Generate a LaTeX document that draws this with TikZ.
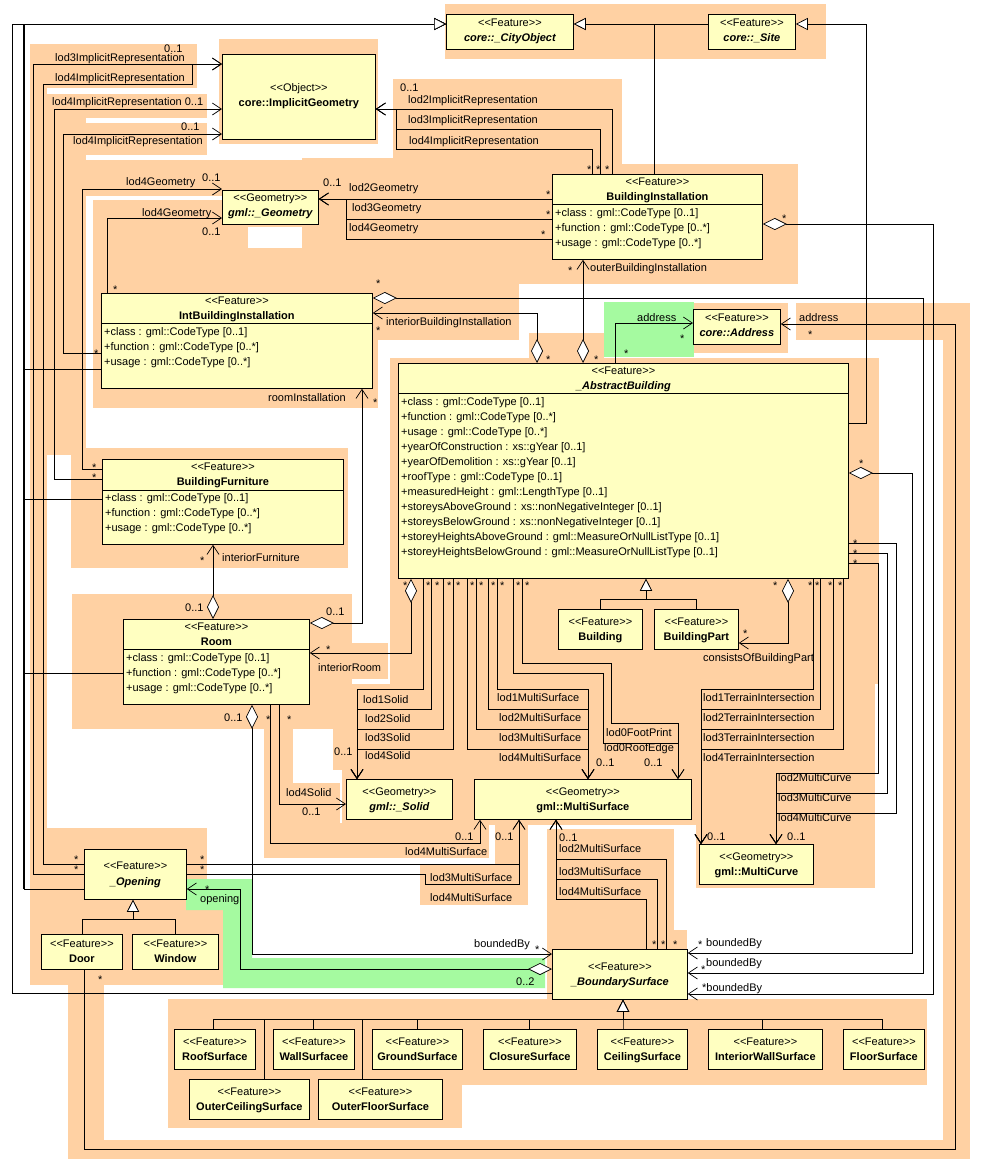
\documentclass[tikz,border=0pt]{standalone}
\usepackage{fontspec}
\setmainfont{Liberation Sans}
\usetikzlibrary{arrows.meta, positioning, calc}
\definecolor{pkgorange}{RGB}{255, 209, 163}
\definecolor{linkgreen}{RGB}{165, 250, 160}
\definecolor{classyellow}{RGB}{255, 255, 193}
\newcommand{\umlfont}{\fontsize{11}{13}\selectfont}
\newcommand{\umlst}[1]{<{}<#1>{}>}

\tikzset{
  umlbox/.style={draw, fill=classyellow, line width=0.8pt, inner sep=0pt, anchor=north west},
  stereo/.style={inner sep=0pt, anchor=mid, font=\umlfont},
  cname/.style={inner sep=0pt, anchor=mid, font=\umlfont\bfseries},
  aname/.style={inner sep=0pt, anchor=mid, font=\umlfont\bfseries\itshape},
  attr/.style={inner sep=0pt, anchor=mid west, font=\umlfont},
  lbl/.style={inner sep=0pt, anchor=mid west, font=\umlfont},
  star/.style={lbl, yshift=-4pt},
  link/.style={line width=0.7pt},
  nav/.style={link, -{Straight Barb[length=9pt, width=12pt]}},
  gen/.style={link, -{Triangle[fill=white, length=12pt, width=12pt]}},
  aggnav/.style={link, {Diamond[fill=white, length=24pt, width=12pt]}-{Straight Barb[length=9pt, width=12pt]}},
}

\begin{document}
\begin{tikzpicture}[x=1pt, y=-1pt]
\useasboundingbox (0,0) rectangle (982,1163);
\fill[white] (0,0) rectangle (982,1163);

\fill[pkgorange] (445,4) rectangle (826,59);
\fill[pkgorange] (219,39) rectangle (378,144);
\fill[pkgorange] (30,44) rectangle (197,88);
\fill[pkgorange] (30,88) rectangle (47,985);
\fill[pkgorange] (47,94) rectangle (207,118);
\fill[pkgorange] (47,118) rectangle (86,455);
\fill[pkgorange] (72,123) rectangle (207,155);
\fill[pkgorange] (72,160) rectangle (302,196);
\fill[pkgorange] (93,200) rectangle (378,408);
\fill[pkgorange] (302,158) rectangle (519,300);
\fill[pkgorange] (378,284) rectangle (519,340);
\fill[pkgorange] (393,79) rectangle (622,164);
\fill[pkgorange] (519,164) rectangle (798,284);
\fill[white] (248,227) rectangle (302,248);
\fill[pkgorange] (71,448) rectangle (348,568);
\fill[pkgorange] (72,594) rectangle (352,729);
\fill[pkgorange] (352,643) rectangle (388,679);
\fill[pkgorange] (264,729) rectangle (293,858);
\fill[pkgorange] (293,783) rectangle (340,823);
\fill[pkgorange] (264,823) rectangle (489,858);
\fill[pkgorange] (390,358) rectangle (879,684);
\fill[pkgorange] (529,333) rectangle (604,358);
\fill[pkgorange] (333,684) rectangle (700,770);
\fill[pkgorange] (342,770) rectangle (697,825);
\fill[pkgorange] (696,684) rectangle (875,888);
\fill[pkgorange] (547,829) rectangle (674,930);
\fill[pkgorange] (547,930) rectangle (687,1004);
\fill[pkgorange] (495,825) rectangle (528,865);
\fill[pkgorange] (420,865) rectangle (528,905);
\fill[pkgorange] (30,828) rectangle (207,985);
\fill[pkgorange] (207,910) rectangle (223,985);
\fill[pkgorange] (68,985) rectangle (104,1159);
\fill[pkgorange] (68,1140) rectangle (970,1159);
\fill[pkgorange] (943,303) rectangle (970,1159);
\fill[pkgorange] (796,303) rectangle (970,340);
\fill[pkgorange] (694,303) rectangle (788,353);
\fill[pkgorange] (168,999) rectangle (927,1085);
\fill[pkgorange] (168,1085) rectangle (462,1128);
\fill[linkgreen] (604,302) rectangle (694,357);
\fill[linkgreen] (186,879) -- (252,879) -- (252,958) -- (545,958) -- (545,988) -- (223,988) -- (223,910) -- (186,910) -- cycle;

\node[umlbox, minimum width=127pt, minimum height=35pt] (co) at (446,14) {};
\node[stereo] (co-s) at (co.north |- 0,24) {\umlst{Feature}};
\node[aname] (co-n) at (co.north |- 0,39) {core::\_CityObject};

\node[umlbox, minimum width=87pt, minimum height=35pt] (site) at (708,14) {};
\node[stereo] (site-s) at (site.north |- 0,24) {\umlst{Feature}};
\node[aname] (site-n) at (site.north |- 0,39) {core::\_Site};

\node[umlbox, minimum width=153pt, minimum height=85pt] (ig) at (222,54) {};
\node[stereo] (ig-s) at (ig.north |- 0,89) {\umlst{Object}};
\node[cname] (ig-n) at (ig.north |- 0,104) {core::ImplicitGeometry};

\node[umlbox, minimum width=96pt, minimum height=34pt] (geo) at (222,190) {};
\node[stereo] (geo-s) at (geo.north |- 0,199) {\umlst{Geometry}};
\node[aname] (geo-n) at (geo.north |- 0,214) {gml::\_Geometry};

\node[umlbox, minimum width=210pt, minimum height=85pt] (bi) at (552,174) {};
\draw (bi.west |- 0,204) -- (bi.east |- 0,204);
\node[stereo] (bi-s) at (bi.north |- 0,183) {\umlst{Feature}};
\node[cname] (bi-n) at (bi.north |- 0,198) {BuildingInstallation};
\node[attr] (bi-a1) at (555,214) {+class : gml::CodeType [0..1]};
\node[attr] (bi-a2) at (555,229) {+function : gml::CodeType [0..*]};
\node[attr] (bi-a3) at (555,244) {+usage : gml::CodeType [0..*]};

\node[umlbox, minimum width=271pt, minimum height=95pt] (ibi) at (101,293) {};
\draw (ibi.west |- 0,323) -- (ibi.east |- 0,323);
\node[stereo] (ibi-s) at (ibi.north |- 0,302) {\umlst{Feature}};
\node[cname] (ibi-n) at (ibi.north |- 0,317) {IntBuildingInstallation};
\node[attr] (ibi-a1) at (104,333) {+class : gml::CodeType [0..1]};
\node[attr] (ibi-a2) at (104,348) {+function : gml::CodeType [0..*]};
\node[attr] (ibi-a3) at (104,363) {+usage : gml::CodeType [0..*]};

\node[umlbox, minimum width=87pt, minimum height=35pt] (addr) at (693,309) {};
\node[stereo] (addr-s) at (addr.north |- 0,319) {\umlst{Feature}};
\node[aname] (addr-n) at (addr.north |- 0,334) {core::Address};

\node[umlbox, minimum width=450pt, minimum height=215pt] (ab) at (398,363) {};
\draw (ab.west |- 0,393) -- (ab.east |- 0,393);
\node[stereo] (ab-s) at (ab.north |- 0,372) {\umlst{Feature}};
\node[aname] (ab-n) at (ab.north |- 0,387) {\_AbstractBuilding};
\foreach \t [count=\i] in {{+class : gml::CodeType [0..1]}, {+function : gml::CodeType [0..*]}, {+usage : gml::CodeType [0..*]}, {+yearOfConstruction : xs::gYear [0..1]}, {+yearOfDemolition : xs::gYear [0..1]}, {+roofType : gml::CodeType [0..1]}, {+measuredHeight : gml::LengthType [0..1]}, {+storeysAboveGround : xs::nonNegativeInteger [0..1]}, {+storeysBelowGround : xs::nonNegativeInteger [0..1]}, {+storeyHeightsAboveGround : gml::MeasureOrNullListType [0..1]}, {+storeyHeightsBelowGround : gml::MeasureOrNullListType [0..1]}}
  \node[attr] (ab-a\i) at (401, 388+15*\i) {\t};

\node[umlbox, minimum width=241pt, minimum height=85pt] (bf) at (102,459) {};
\draw (bf.west |- 0,490) -- (bf.east |- 0,490);
\node[stereo] (bf-s) at (bf.north |- 0,468) {\umlst{Feature}};
\node[cname] (bf-n) at (bf.north |- 0,483) {BuildingFurniture};
\node[attr] (bf-a1) at (105,499) {+class : gml::CodeType [0..1]};
\node[attr] (bf-a2) at (105,514) {+function : gml::CodeType [0..*]};
\node[attr] (bf-a3) at (105,529) {+usage : gml::CodeType [0..*]};

\node[umlbox, minimum width=186pt, minimum height=85pt] (room) at (123,619) {};
\draw (room.west |- 0,649) -- (room.east |- 0,649);
\node[stereo] (room-s) at (room.north |- 0,628) {\umlst{Feature}};
\node[cname] (room-n) at (room.north |- 0,643) {Room};
\node[attr] (room-a1) at (126,659) {+class : gml::CodeType [0..1]};
\node[attr] (room-a2) at (126,674) {+function : gml::CodeType [0..*]};
\node[attr] (room-a3) at (126,689) {+usage : gml::CodeType [0..*]};

\node[umlbox, minimum width=84pt, minimum height=40pt] (bldg) at (558,609) {};
\node[stereo] (bldg-s) at (bldg.north |- 0,623) {\umlst{Feature}};
\node[cname] (bldg-n) at (bldg.north |- 0,638) {Building};
\node[umlbox, minimum width=84pt, minimum height=40pt] (bpart) at (654,609) {};
\node[stereo] (bpart-s) at (bpart.north |- 0,623) {\umlst{Feature}};
\node[cname] (bpart-n) at (bpart.north |- 0,638) {BuildingPart};

\node[umlbox, minimum width=106pt, minimum height=40pt] (solid) at (346,779) {};
\node[stereo] (solid-s) at (solid.north |- 0,793) {\umlst{Geometry}};
\node[aname] (solid-n) at (solid.north |- 0,808) {gml::\_Solid};
\node[umlbox, minimum width=217pt, minimum height=40pt] (msurf) at (474,779) {};
\node[stereo] (msurf-s) at (msurf.north |- 0,793) {\umlst{Geometry}};
\node[cname] (msurf-n) at (msurf.north |- 0,808) {gml::MultiSurface};
\node[umlbox, minimum width=114pt, minimum height=40pt] (mcurve) at (699,844) {};
\node[stereo] (mcurve-s) at (mcurve.north |- 0,858) {\umlst{Geometry}};
\node[cname] (mcurve-n) at (mcurve.north |- 0,873) {gml::MultiCurve};

\node[umlbox, minimum width=102pt, minimum height=50pt] (opng) at (84,849) {};
\node[stereo] (opng-s) at (opng.north |- 0,867) {\umlst{Feature}};
\node[aname] (opng-n) at (opng.north |- 0,883) {\_Opening};
\node[umlbox, minimum width=81pt, minimum height=35pt] (door) at (41,934) {};
\node[stereo] (door-s) at (door.north |- 0,945) {\umlst{Feature}};
\node[cname] (door-n) at (door.north |- 0,960) {Door};
\node[umlbox, minimum width=86pt, minimum height=35pt] (window) at (132,934) {};
\node[stereo] (window-s) at (window.north |- 0,945) {\umlst{Feature}};
\node[cname] (window-n) at (window.north |- 0,960) {Window};

\node[umlbox, minimum width=135pt, minimum height=50pt] (bs) at (552,949) {};
\node[stereo] (bs-s) at (bs.north |- 0,968) {\umlst{Feature}};
\node[aname] (bs-n) at (bs.north |- 0,983) {\_BoundarySurface};

\foreach \n/\l/\t/\w/\c in {roof/174/1029/81/RoofSurface, wall/273/1029/81/WallSurfacee, ground/372/1029/90/GroundSurface, closure/483/1029/93/ClosureSurface, ceiling/597/1029/90/CeilingSurface, intwall/708/1029/114/InteriorWallSurface, floor/843/1029/81/FloorSurface, outceil/189/1079/120/OuterCeilingSurface, outfloor/318/1079/124/OuterFloorSurface} {
  \node[umlbox, minimum width=\w pt, minimum height=40pt] (\n) at (\l,\t) {};
  \node[stereo] (\n-s) at ($(\n.north)+(0,14)$) {\umlst{Feature}};
  \node[cname] (\n-n) at ($(\n.north)+(0,29)$) {\c};
}

\draw[gen] (site.west |- 0,24) -- (co.east |- 0,24);
\draw[gen] (bi.north -| 654,0) |- (co.east |- 0,24);
\draw[gen] (ab.east |- 0,423) -| (866,24) -- (site.east |- 0,24);
\draw[gen] (bs.west |- 0,993) -| (12,24) -- (co.west |- 0,24);
\draw[gen] (ibi.west |- 0,369) -| (24,24) -- (co.west |- 0,24);
\draw[gen] (bf.west |- 0,499) -| (24,24) -- (co.west |- 0,24);
\draw[gen] (room.west |- 0,673) -| (24,24) -- (co.west |- 0,24);
\draw[gen] (opng.west |- 0,889) -| (24,24) -- (co.west |- 0,24);
\coordinate (gtrunk) at (24,889);
\draw[link, line width=1.5pt] (gtrunk) -- (gtrunk |- 0,24);
\draw[gen] (bldg.north) -- ++(0,-10) -| (ab.south -| 646,0);
\draw[gen] (bpart.north) -- ++(0,-10) -| (ab.south -| 646,0);
\draw[gen] (door.north) -- ++(0,-15) -| (opng.south -| 133,0);
\draw[gen] (window.north) -- ++(0,-15) -| (opng.south -| 133,0);
\foreach \n/\x in {roof/213, wall/313, ground/417, closure/529, ceiling/623, intwall/762, floor/882, outceil/264, outfloor/362}
  \draw[gen] (\n.north -| \x,0) -- (\x,1019) -| (bs.south -| 623,0);

\draw[nav] (opng.west |- 0,874) -| (33,64) -- (ig.west |- 0,64);
\draw[nav] (opng.west |- 0,864) -| (43,84) -| (192,64) -- (ig.west |- 0,64);
\draw[nav] (bf.west |- 0,479) -| (54,109) -- (ig.west |- 0,109);
\draw[nav] (ibi.west |- 0,353) -| (63,134) -- (ig.west |- 0,134);
\draw[nav] (bf.west |- 0,469) -| (82,189) -- (geo.west |- 0,189);
\draw[nav] (ibi.north -| 107,0) |- (geo.west |- 0,218);
\draw[nav] (bi.west |- 0,199) -- (geo.east |- 0,199);
\draw[nav] (bi.west |- 0,219) -| (346,199) -- (geo.east |- 0,199);
\draw[nav] (bi.west |- 0,239) -| (346,199) -- (geo.east |- 0,199);
\draw[nav] (bi.north -| 612,0) |- (ig.east |- 0,109);
\draw[nav] (bi.north -| 600,0) |- (396,129) -- (396,109) -- (ig.east |- 0,109);
\draw[nav] (bi.north -| 592,0) |- (396,149) -- (396,109) -- (ig.east |- 0,109);
\draw[aggnav] (ab.north -| 583,0) -- (bi.south -| 583,0);
\draw[aggnav] (ab.north -| 537,0) |- (ibi.east |- 0,313);
\draw[nav] (ab.north -| 615,0) |- (addr.west |- 0,323);
\draw[nav] (door.south -| 84,0) |- (955,1149) |- (addr.east |- 0,324);
\draw[aggnav] (room.east |- 0,623) -| (ibi.south -| 362,0);
\draw[aggnav] (ab.south -| 411,0) |- (room.east |- 0,653);
\draw[aggnav] (room.north -| 213,0) -- (bf.south -| 213,0);
\draw[aggnav] (ab.south -| 788,0) |- (bpart.east |- 0,643);
\foreach \x/\y in {423/689, 431/709, 443/729, 453/749}
  \draw[nav] (ab.south -| \x,0) |- (357,\y) -- (solid.north -| 357,0);
\foreach \x/\y in {497/689, 488/709, 476/729, 467/749}
  \draw[nav] (ab.south -| \x,0) |- (588,\y) -- (msurf.north -| 588,0);
\draw[nav] (ab.south -| 522,0) |- (611,663) |- (678,723) -- (msurf.north -| 678,0);
\draw[nav] (ab.south -| 513,0) |- (603,673) |- (678,743) -- (msurf.north -| 678,0);
\foreach \x/\y in {813/689, 820/709, 833/729, 843/749}
  \draw[nav] (ab.south -| \x,0) |- (701,\y) -- (mcurve.north -| 701,0);
\foreach \y/\x/\z in {563/878/773, 553/887/793, 543/896/813}
  \draw[nav] (ab.east |- 0,\y) -| (\x,\z) -| (mcurve.north -| 776,0);
\draw[aggnav] (ab.east |- 0,473) -| (912,953) -- (bs.east |- 0,953);
\draw[aggnav] (ibi.east |- 0,298) -| (923,973) -- (bs.east |- 0,973);
\draw[aggnav] (bi.east |- 0,224) -| (933,994) -- (bs.east |- 0,994);
\draw[aggnav] (room.south -| 252,0) |- (bs.west |- 0,954);
\draw[aggnav] (bs.west |- 0,969) -| (240,889) -- (opng.east |- 0,889);
\draw[nav] (room.south -| 279,0) |- (solid.west |- 0,804);
\draw[nav] (room.south -| 270,0) |- (480,843) -- (msurf.south -| 480,0);
\draw[nav] (opng.east |- 0,864) -| (msurf.south -| 519,0);
\draw[nav] (opng.east |- 0,874) -| (425,884) -| (msurf.south -| 519,0);
\foreach \x/\y in {666/859, 657/879, 646/899}
  \draw[nav] (bs.north -| \x,0) |- (556,\y) -- (msurf.south -| 556,0);

\node[lbl] (m-ig1) at (164,50) {0..1};
\node[lbl] (r-ig1) at (55,59) {lod3ImplicitRepresentation};
\node[lbl] (r-ig2) at (55,79) {lod4ImplicitRepresentation};
\node[lbl] (r-ig3) at (52,103) {lod4ImplicitRepresentation 0..1};
\node[lbl] (m-ig4) at (181,128) {0..1};
\node[lbl] (r-ig4) at (73,142) {lod4ImplicitRepresentation};
\node[lbl] (r-geo1) at (126,183) {lod4Geometry};
\node[lbl] (m-geo1) at (202,179) {0..1};
\node[lbl] (r-geo2) at (142,214) {lod4Geometry};
\node[lbl] (m-geo2) at (202,233) {0..1};
\node[lbl] (m-big) at (400,89) {0..1};
\node[lbl] (r-big2) at (408,101) {lod2ImplicitRepresentation};
\node[lbl] (r-big3) at (408,121) {lod3ImplicitRepresentation};
\node[lbl] (r-big4) at (409,142) {lod4ImplicitRepresentation};
\node[lbl] (m-bgeo) at (323,184) {0..1};
\node[lbl] (r-bgeo2) at (349,189) {lod2Geometry};
\node[lbl] (r-bgeo3) at (352,209) {lod3Geometry};
\node[lbl] (r-bgeo4) at (349,229) {lod4Geometry};
\node[lbl] (r-obi) at (590,269) {outerBuildingInstallation};
\node[lbl] (r-ibi) at (386,323) {interiorBuildingInstallation};
\node[lbl] (r-rins) at (268,399) {roomInstallation};
\node[lbl] (r-addr1) at (637,319) {address};
\node[lbl] (r-addr2) at (799,319) {address};
\node[lbl] (m-furn) at (185,609) {0..1};
\node[lbl] (r-furn) at (222,559) {interiorFurniture};
\node[lbl] (m-rins) at (326,613) {0..1};
\node[lbl] (r-iroom) at (318,669) {interiorRoom};
\node[lbl] (m-rbb) at (224,719) {0..1};
\node[lbl] (r-rsol) at (286,794) {lod4Solid};
\node[lbl] (m-rsol) at (302,813) {0..1};
\node[lbl] (m-rms) at (455,838) {0..1};
\node[lbl] (r-rms) at (405,853) {lod4MultiSurface};
\node[lbl] (m-oms) at (495,838) {0..1};
\node[lbl] (r-oms3) at (430,879) {lod3MultiSurface};
\node[lbl] (r-oms4) at (430,899) {lod4MultiSurface};
\node[lbl] (r-sol1) at (363,701) {lod1Solid};
\node[lbl] (r-sol2) at (365,720) {lod2Solid};
\node[lbl] (r-sol3) at (365,739) {lod3Solid};
\node[lbl] (r-sol4) at (365,757) {lod4Solid};
\node[lbl] (m-sol) at (334,753) {0..1};
\node[lbl] (r-ms1) at (497,699) {lod1MultiSurface};
\node[lbl] (r-ms2) at (499,719) {lod2MultiSurface};
\node[lbl] (r-ms3) at (499,739) {lod3MultiSurface};
\node[lbl] (r-ms4) at (499,759) {lod4MultiSurface};
\node[lbl] (m-ms) at (596,764) {0..1};
\node[lbl] (r-fp) at (606,734) {lod0FootPrint};
\node[lbl] (r-re) at (604,749) {lod0RoofEdge};
\node[lbl] (m-fp) at (644,764) {0..1};
\node[lbl] (r-part) at (703,659) {consistsOfBuildingPart};
\node[lbl] (r-ti1) at (703,699) {lod1TerrainIntersection};
\node[lbl] (r-ti2) at (703,719) {lod2TerrainIntersection};
\node[lbl] (r-ti3) at (703,739) {lod3TerrainIntersection};
\node[lbl] (r-ti4) at (703,759) {lod4TerrainIntersection};
\node[lbl] (m-ti) at (707,838) {0..1};
\node[lbl] (r-mc2) at (778,779) {lod2MultiCurve};
\node[lbl] (r-mc3) at (778,799) {lod3MultiCurve};
\node[lbl] (r-mc4) at (778,819) {lod4MultiCurve};
\node[lbl] (m-mc) at (787,838) {0..1};
\node[lbl] (m-bms) at (559,839) {0..1};
\node[lbl] (r-bms2) at (559,850) {lod2MultiSurface};
\node[lbl] (r-bms3) at (559,873) {lod3MultiSurface};
\node[lbl] (r-bms4) at (559,893) {lod4MultiSurface};
\node[lbl] (r-rbb) at (474,945) {boundedBy};
\node[lbl] (m-open) at (516,983) {0..2};
\node[lbl] (r-abb) at (706,944) {boundedBy};
\node[lbl] (r-ibb) at (706,964) {boundedBy};
\node[lbl] (r-bbb) at (702,989) {*boundedBy};
\node[lbl] (r-open) at (200,900) {opening};

\foreach \x/\y [count=\k] in {113/287, 94/351, 92/465, 92/475, 74/857, 74/867, 200/857, 200/867, 587/167, 596/167, 605/167, 546/192, 546/212, 541/232, 568/268, 782/216, 376/281, 376/328, 373/400, 546/357, 594/357, 680/336, 624/351, 808/332, 859/461, 853/541, 853/551, 853/561, 403/583, 426/583, 435/583, 447/583, 456/583, 470/583, 479/583, 491/583, 500/583, 516/583, 525/583, 773/583, 808/583, 815/583, 828/583, 838/583, 743/631, 200/558, 326/647, 266/717, 287/717, 652/942, 661/942, 673/942, 535/947, 698/942, 701/967, 205/887, 98/977}
  \node[star] (s\k) at (\x,\y) {*};
\end{tikzpicture}
\end{document}
